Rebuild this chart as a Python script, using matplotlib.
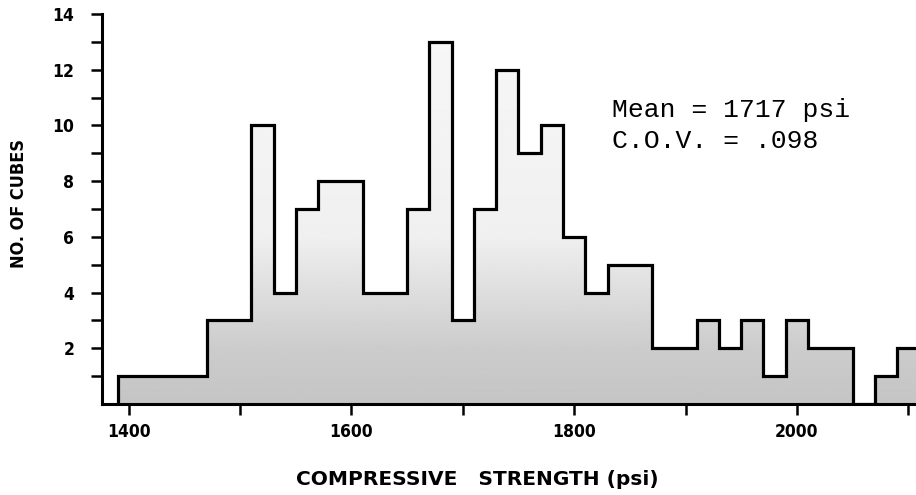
import numpy as np
import matplotlib.pyplot as plt
from matplotlib.patches import Polygon

# Cube strength histogram, 20 psi classes starting at 1390 psi
bin_start = 1390
bin_width = 20
counts = [1, 1, 1, 1, 3, 3, 10, 4, 7, 8, 8, 4, 4, 7, 13, 3, 7, 12, 9, 10,
          6, 4, 5, 5, 2, 2, 3, 2, 3, 1, 3, 2, 2, 0, 1, 2]
edges = bin_start + bin_width * np.arange(len(counts) + 1)

x_major = [1400, 1600, 1800, 2000]
x_minor = [1500, 1700, 1900, 2100]
y_major = [2, 4, 6, 8, 10, 12, 14]
y_minor = [1, 3, 5, 7, 9, 11, 13]

stats_lines = ['Mean = 1717 psi', 'C.O.V. = .098']

label_font = ['DejaVu Sans']
note_font = ['Liberation Mono', 'DejaVu Sans Mono']

fig = plt.figure(figsize=(9.16, 4.95), dpi=100)
ax = fig.add_axes([0.1114, 0.1838, 0.8886, 0.7879])
ax.set_xlim(1376, 2107)
ax.set_ylim(0, 14)

# outline polygon of the histogram, used to clip the shaded fill
xs = np.repeat(edges, 2)
ys = np.concatenate([[0], np.repeat(counts, 2), [0]])
poly = Polygon(np.column_stack([xs, ys]), closed=True, facecolor='none',
               edgecolor='none')
ax.add_patch(poly)

# stipple-like shading, denser toward the base
yy = np.linspace(0, 14, 300)
shade = np.interp(yy, [0, 2, 4, 6, 14], [0.77, 0.80, 0.87, 0.94, 0.97])
img = ax.imshow(np.tile(shade[:, None], (1, 2)), cmap='gray', vmin=0, vmax=1,
                extent=[1376, 2107, 0, 14], origin='lower', aspect='auto',
                interpolation='bilinear', zorder=1)
img.set_clip_path(poly)

ax.stairs(counts, edges, baseline=0, color='black', linewidth=2.3, zorder=3)

# axes styling
for side in ['top', 'right']:
    ax.spines[side].set_visible(False)
for side in ['left', 'bottom']:
    ax.spines[side].set_linewidth(2.2)
    ax.spines[side].set_zorder(4)

ax.set_xticks(x_major)
ax.set_xticks(x_minor, minor=True)
ax.set_yticks(y_major)
ax.set_yticks(y_minor, minor=True)
ax.tick_params(axis='both', which='both', direction='out', length=8, width=1.8)
ax.tick_params(axis='x', which='major', pad=6)
ax.tick_params(axis='y', which='major', pad=12)
for lbl in ax.get_xticklabels() + ax.get_yticklabels():
    lbl.set_family(label_font)
    lbl.set_fontweight('bold')
    lbl.set_fontstretch('condensed')
    lbl.set_fontsize(12.5)

ax.set_xlabel('COMPRESSIVE   STRENGTH (psi)', family=label_font,
              fontweight='bold', fontsize=14.5)
ax.xaxis.set_label_coords(0.461, -0.170)
ax.set_ylabel('NO. OF CUBES', family=label_font, fontweight='bold',
              fontstretch='condensed', fontsize=13)
ax.yaxis.set_label_coords(-0.091, 0.515)

ax.text(1834, 10.30, stats_lines[0], family=note_font, fontsize=19,
        va='baseline', ha='left')
ax.text(1834, 9.19, stats_lines[1], family=note_font, fontsize=19,
        va='baseline', ha='left')

fig.savefig('out.png', dpi=100)
